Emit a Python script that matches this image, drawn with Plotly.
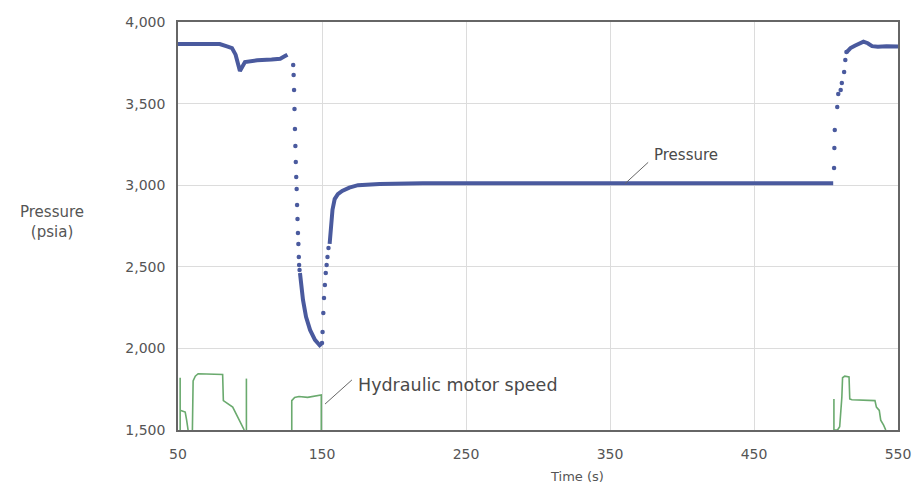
import plotly.graph_objects as go

# ---- data ----
# continuous (densely sampled) pressure segments, None = gap
pressure_line_t = [50, 79, 84, 87.5, 90, 91.5, 93, 96.5, 105, 115, 121, 124, 126, None,
                   134.7, 136.8, 138.9, 141.7, 145.1, 149.3, None,
                   155.3, 156.3, 157.3, 158.8, 161, 164, 169, 175, 190, 220, 300, 400, 505, None,
                   514.4, 517, 520, 523, 526, 529, 532, 536, 542, 550]
pressure_line_p = [3865, 3865, 3850, 3840, 3800, 3740, 3700, 3755, 3765, 3770, 3775, 3790, 3800, None,
                   2462, 2297, 2193, 2113, 2052, 2010, None,
                   2640, 2760, 2850, 2915, 2945, 2965, 2985, 3000, 3008, 3012, 3012, 3012, 3012, None,
                   3816, 3840, 3855, 3870, 3880, 3870, 3852, 3848, 3852, 3850]

# sparsely sampled pressure (fast transients shown as separate dots)
pressure_dots_t = [130.0, 130.3, 130.6, 130.9, 131.2, 131.5, 131.8, 132.1, 132.4, 132.7,
                   133.0, 133.3, 133.6, 133.9, 134.1, 134.4,
                   150.0, 150.4, 150.9, 151.4, 152.0, 152.6, 153.2, 153.8, 154.5,
                   505.6, 505.8, 506.1, 507.8, 508.5, 510.2, 511.0, 512.6, 513.4, 514.2]
pressure_dots_p = [3737, 3675, 3583, 3467, 3344, 3240, 3142, 3050, 2977, 2879,
                   2793, 2707, 2640, 2560, 2511, 2480,
                   2033, 2101, 2217, 2309, 2389, 2462, 2511, 2560, 2615,
                   3105, 3228, 3338, 3479, 3559, 3583, 3626, 3694, 3767, 3816]

# hydraulic motor speed (plotted in the lower band, on the same scale)
motor_t = [51.5, 51.5, None, 52, 55, 56, 57, None,
           60, 60.5, 62, 64, 81, 81.5, 88, 95, 96, None,
           97.5, 97.5, None,
           129, 129, 131, 134, 140, 145, 149.5, 149.5, None,
           505.5, 505.5, 508, 509.5, 511, 511.5, 513, 516, 516.5, 518, 534, 535, 537, 538, 540, 541.5]
motor_v = [1500, 1820, None, 1620, 1610, 1560, 1500, None,
           1500, 1800, 1830, 1845, 1840, 1680, 1640, 1520, 1500, None,
           1500, 1815, None,
           1500, 1680, 1700, 1705, 1700, 1710, 1715, 1500, None,
           1690, 1500, 1500, 1520, 1700, 1820, 1830, 1825, 1690, 1685, 1680, 1640, 1620, 1560, 1530, 1500]

x_ticks = [50, 150, 250, 350, 450, 550]
y_ticks = [1500, 2000, 2500, 3000, 3500, 4000]
y_tick_labels = ["1,500", "2,000", "2,500", "3,000", "3,500", "4,000"]

BLUE = "#4a5a9e"
GREEN = "#6aaa6e"
FONT = "DejaVu Sans, Verdana, sans-serif"

fig = go.Figure()
fig.add_trace(go.Scatter(x=motor_t, y=motor_v, mode="lines",
                         line=dict(color=GREEN, width=1.6), connectgaps=False,
                         hoverinfo="skip", showlegend=False))
fig.add_trace(go.Scatter(x=pressure_line_t, y=pressure_line_p, mode="lines",
                         line=dict(color=BLUE, width=4), connectgaps=False,
                         showlegend=False))
fig.add_trace(go.Scatter(x=pressure_dots_t, y=pressure_dots_p, mode="markers",
                         marker=dict(color=BLUE, size=4.5), showlegend=False))

# leader lines
fig.add_shape(type="line", x0=360.5, y0=3010, x1=376.5, y1=3140,
              line=dict(color="#666", width=1))
fig.add_shape(type="line", x0=152.1, y0=1659, x1=170.8, y1=1807,
              line=dict(color="#666", width=1))

fig.add_annotation(x=379, y=3185, text="Pressure", showarrow=False,
                   xanchor="left", yanchor="middle",
                   font=dict(family=FONT, size=15, color="#4a4a4a"))
fig.add_annotation(x=173.5, y=1776, text="Hydraulic motor speed", showarrow=False,
                   xanchor="left", yanchor="middle",
                   font=dict(family=FONT, size=17.5, color="#4a4a4a"))
fig.add_annotation(xref="paper", yref="paper", x=0, y=0.51, xshift=-126,
                   text="Pressure<br>(psia)", showarrow=False,
                   xanchor="center", yanchor="middle", align="center",
                   font=dict(family=FONT, size=15, color="#555"))
fig.add_annotation(xref="paper", yref="paper", x=0.554, y=0, yshift=-46,
                   text="Time (s)", showarrow=False,
                   xanchor="center", yanchor="middle",
                   font=dict(family=FONT, size=13, color="#555"))

fig.update_xaxes(range=[50, 550], tickvals=x_ticks, ticktext=[str(v) for v in x_ticks],
                 showgrid=True, gridcolor="#dcdcdc", gridwidth=1,
                 showline=True, linecolor="#666", linewidth=1.5, mirror=True,
                 zeroline=False, ticks="", ticklabelstandoff=10, automargin=False,
                 tickfont=dict(family=FONT, size=14, color="#555"))
fig.update_yaxes(range=[1500, 4000], tickvals=y_ticks, ticktext=y_tick_labels,
                 showgrid=True, gridcolor="#dcdcdc", gridwidth=1,
                 showline=True, linecolor="#666", linewidth=1.5, mirror=True,
                 zeroline=False, ticks="", ticklabelstandoff=8, automargin=False,
                 tickfont=dict(family=FONT, size=14, color="#555"))

fig.update_layout(width=914, height=491,
                  margin=dict(l=178, r=16, t=22, b=61),
                  plot_bgcolor="white", paper_bgcolor="white",
                  font=dict(family=FONT))

fig.write_html("out.html", config={"displayModeBar": False},
               post_script="document.body.style.margin='0';document.body.style.overflow='hidden';")
